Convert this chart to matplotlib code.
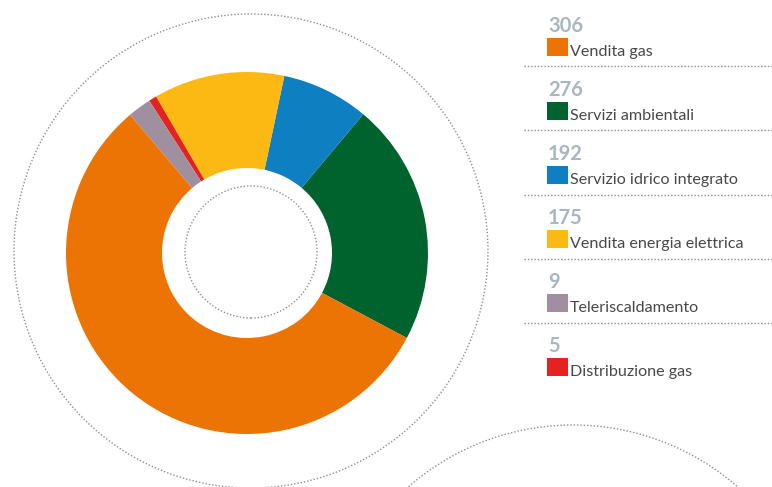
import matplotlib
matplotlib.use("Agg")
import matplotlib.pyplot as plt
from matplotlib.patches import Circle

# legend entries (top to bottom)
labels = ["Vendita gas", "Servizi ambientali", "Servizio idrico integrato",
          "Vendita energia elettrica", "Teleriscaldamento", "Distribuzione gas"]
values = [306, 276, 192, 175, 9, 5]
colors = ["#EC7404", "#00622D", "#0E7FC1", "#FDB913", "#A0909F", "#E42320"]
# slice shares (%) as read from the donut
shares = [56.1, 21.7, 7.8, 11.7, 2.1, 0.7]
# order of the slices going counterclockwise from the start angle
pie_order = [1, 2, 3, 5, 4, 0]

W, H = 772, 487
fig = plt.figure(figsize=(W / 100, H / 100), dpi=100)
ax = fig.add_axes([0, 0, 1, 1])

ax.pie([shares[i] for i in pie_order],
       colors=[colors[i] for i in pie_order],
       startangle=-28, counterclock=True,
       radius=181, center=(247, H - 253),
       wedgeprops=dict(width=96, linewidth=0))

dot = dict(fill=False, color="#8f8f8f", lw=1.0, linestyle=(0, (1, 1.4)))
ax.add_patch(Circle((251, H - 251), 237, **dot))
ax.add_patch(Circle((251, H - 252), 66, **dot))
ax.add_patch(Circle((573, H - 675), 250, **dot))

ax.set_xlim(0, W)
ax.set_ylim(0, H)
ax.set_aspect("equal")
ax.axis("off")

# legend column
for i, (lab, val, col) in enumerate(zip(labels, values, colors)):
    y0 = 18 + 64 * i
    ax.text(548, H - y0 + 2, str(val), fontsize=14.5, fontweight="bold",
            family="Lato", color="#A8B6C1", va="top", ha="left")
    ax.add_patch(plt.Rectangle((547, H - (y0 + 38)), 21, 18,
                               color=col, lw=0))
    ax.text(570, H - (y0 + 38), lab, fontsize=11.6, family="Lato",
            color="#484848", va="baseline", ha="left")
    if i < len(labels) - 1:
        ly = H - (66 + 64.3 * i)
        ax.plot([524, W], [ly, ly], color="#8f8f8f", lw=1.0,
                linestyle=(0, (1, 1.4)))

fig.savefig("out.png", dpi=100)
